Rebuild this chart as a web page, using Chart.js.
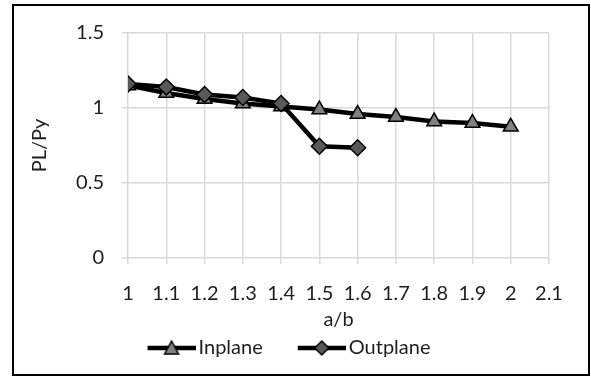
<!DOCTYPE html>
<html>
<head>
<meta charset="utf-8">
<script src="https://cdn.jsdelivr.net/npm/chart.js@4"></script>
<style>
  html, body { margin: 0; padding: 0; background: #fff; }
  #wrap { width: 591px; height: 378px; position: relative; }
</style>
</head>
<body>
<div id="wrap"><canvas id="myChart" width="591" height="378"></canvas></div>
<script>
"use strict";

const ratios = [1, 1.1, 1.2, 1.3, 1.4, 1.5, 1.6, 1.7, 1.8, 1.9, 2];
const inplane = [1.15, 1.10, 1.06, 1.03, 1.01, 0.99, 0.96, 0.94, 0.91, 0.90, 0.875];
const outplane = [1.16, 1.14, 1.09, 1.07, 1.03, 0.745, 0.735];
const seriesNames = ['Inplane', 'Outplane'];

const FONT = "Lato, 'Open Sans', sans-serif";
const TEXT = '#1e1e1e';

const toPoints = (ys) => ys.map((y, i) => ({x: ratios[i], y: y}));
const plainNum = (v) => String(+Number(v).toFixed(2));

// legend glyph: line with the marker in the middle, drawn at the right
// end of a wider canvas so the legend spacing looks like the original
const GLYPH_BOX = 70;
const legendGlyph = (shape, fill) => {
	const c = document.createElement('canvas');
	c.width = GLYPH_BOX + 14;
	c.height = 18;
	const g = c.getContext('2d');
	const x0 = c.width - 48;
	const mid = x0 + 24;
	g.strokeStyle = '#000';
	g.lineWidth = 4.5;
	g.beginPath();
	g.moveTo(x0, 9);
	g.lineTo(x0 + 48, 9);
	g.stroke();
	g.fillStyle = fill;
	g.lineWidth = 1.5;
	g.beginPath();
	if (shape === 'triangle') {
		g.moveTo(mid, 2);
		g.lineTo(mid + 7, 15);
		g.lineTo(mid - 7, 15);
	} else {
		g.moveTo(mid, 2);
		g.lineTo(mid + 7, 9);
		g.lineTo(mid, 16);
		g.lineTo(mid - 7, 9);
	}
	g.closePath();
	g.fill();
	g.stroke();
	return c;
};

const glyphs = [legendGlyph('triangle', '#808080'), legendGlyph('diamond', '#595959')];

const frame = {
	id: 'frame',
	afterDraw(chart) {
		const ctx = chart.ctx;
		ctx.save();
		ctx.strokeStyle = '#000';
		ctx.lineWidth = 2;
		ctx.strokeRect(13, 5, 576, 370);
		ctx.restore();
	}
};

const data = {
	datasets: [
		{
			label: seriesNames[0],
			data: toPoints(inplane),
			borderColor: '#000',
			borderWidth: 4.5,
			pointStyle: 'triangle',
			pointRadius: 8.5,
			pointBackgroundColor: '#808080',
			pointBorderColor: '#000',
			pointBorderWidth: 1.5,
			order: 1
		},
		{
			label: seriesNames[1],
			data: toPoints(outplane),
			borderColor: '#000',
			borderWidth: 4.5,
			pointStyle: 'rectRot',
			pointRadius: 8,
			pointBackgroundColor: '#595959',
			pointBorderColor: '#000',
			pointBorderWidth: 1.5,
			order: 0
		}
	]
};

const config = {
	type: 'line',
	data: data,
	plugins: [frame],
	options: {
		responsive: false,
		animation: false,
		layout: {
			padding: {left: 0, right: 42, top: 33, bottom: 10}
		},
		plugins: {
			legend: {
				position: 'bottom',
				labels: {
					usePointStyle: true,
					pointStyleWidth: GLYPH_BOX,
					padding: 6,
					color: TEXT,
					font: {family: FONT, size: 20},
					generateLabels: (chart) => chart.data.datasets.map((ds, i) => ({
						text: ds.label,
						pointStyle: glyphs[i],
						fillStyle: 'transparent',
						strokeStyle: 'transparent',
						lineWidth: 0,
						fontColor: TEXT,
						hidden: !chart.isDatasetVisible(i),
						datasetIndex: i
					}))
				}
			},
			tooltip: {enabled: false}
		},
		scales: {
			x: {
				type: 'linear',
				min: 1,
				max: 2.1,
				ticks: {
					stepSize: 0.1,
					autoSkip: false,
					maxRotation: 0,
					minRotation: 0,
					padding: 18,
					color: TEXT,
					font: {family: FONT, size: 20},
					callback: plainNum
				},
				grid: {color: '#d9d9d9', lineWidth: 1.5, tickLength: 6},
				border: {display: false},
				title: {
					display: true,
					text: 'a/b',
					color: TEXT,
					padding: {top: -16, bottom: 0},
					font: {family: FONT, size: 20}
				}
			},
			y: {
				min: 0,
				max: 1.5,
				ticks: {
					stepSize: 0.5,
					padding: 18,
					color: TEXT,
					font: {family: FONT, size: 20},
					callback: plainNum
				},
				grid: {color: '#d9d9d9', lineWidth: 1.5, tickLength: 6},
				border: {display: false},
				title: {
					display: true,
					text: 'PL/Py',
					color: TEXT,
					padding: {top: 28, bottom: 0},
					font: {family: FONT, size: 20}
				},
				afterFit: (scale) => { scale.width = 128; }
			}
		}
	}
};

const myChart = new Chart(document.getElementById('myChart'), config);
</script>
</body>
</html>
